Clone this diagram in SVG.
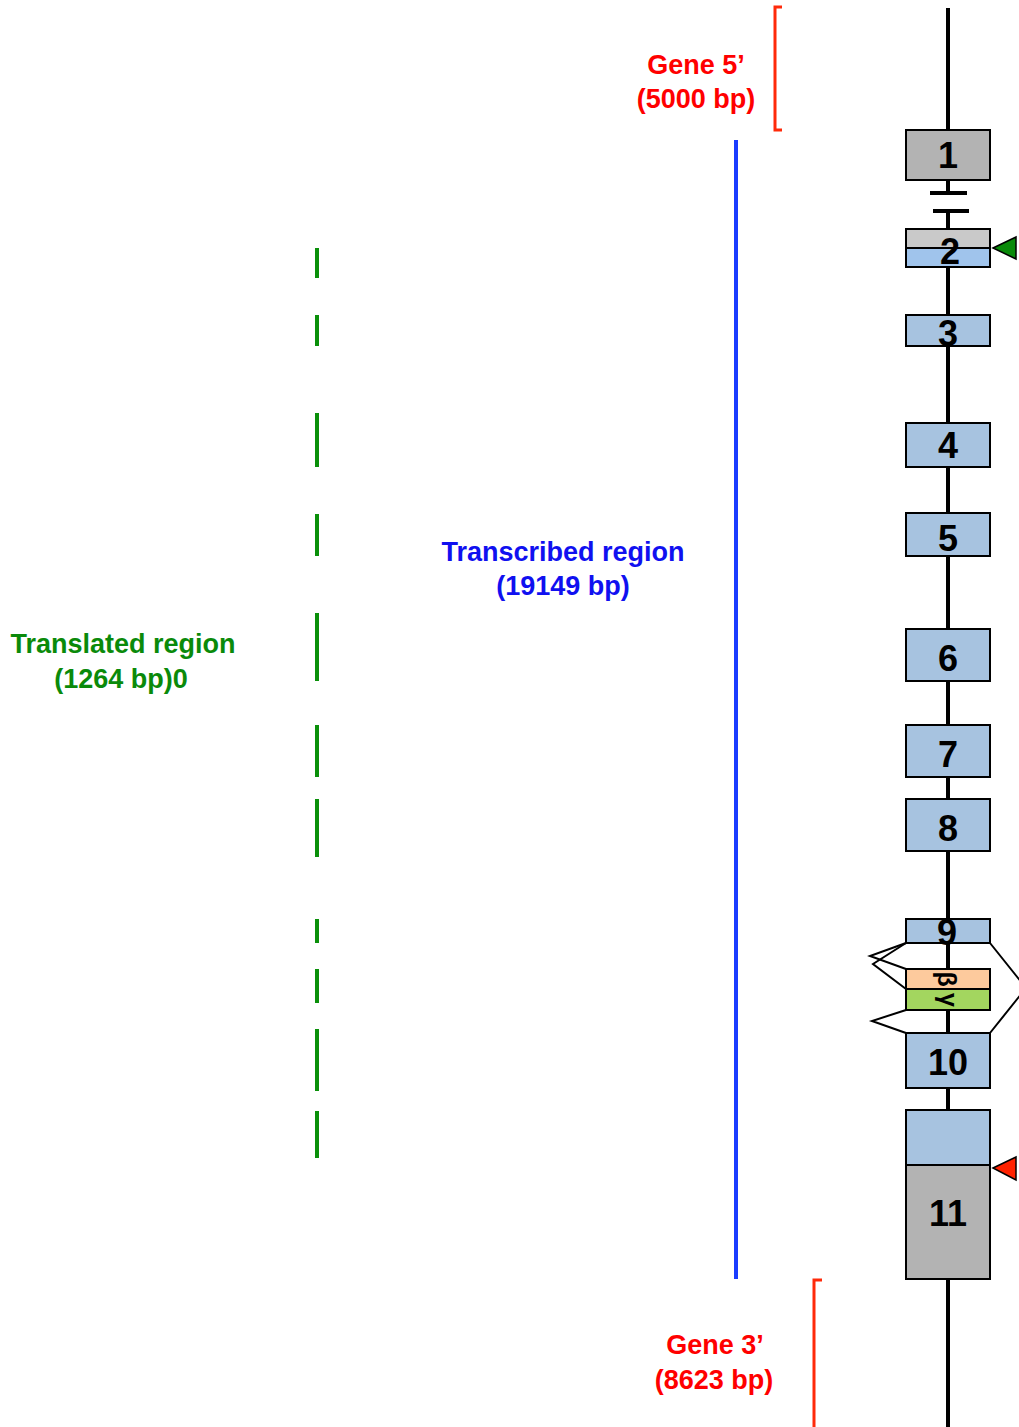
<svg xmlns="http://www.w3.org/2000/svg" width="1019" height="1427" viewBox="0 0 1019 1427">
<style>
.ex{stroke:#000;stroke-width:2}
.gray{fill:#b3b3b3}
.lgray{fill:#c9c9c9}
.blue{fill:#a7c3e0}
.blue2{fill:#a0c4ec}
.peach{fill:#fdca9d}
.grn{fill:#a3d65f}
.num{font-family:"Liberation Sans",Arial,sans-serif;font-weight:bold;font-size:36px;text-anchor:middle;fill:#000}
.greek{font-family:"Liberation Sans",Arial,sans-serif;font-weight:bold;font-size:25px;text-anchor:middle;fill:#000}
.lbl{font-family:"Liberation Sans",Arial,sans-serif;font-weight:bold;font-size:27px;text-anchor:middle}
.red{fill:#ff0000}
.bl{fill:#1010f0}
.gr{fill:#0a8a0a}
.dash{stroke:#0a900a;stroke-width:4}
.spl{fill:none;stroke:#000;stroke-width:2}
</style>
<g id="connectors">
<line x1="948" y1="8" x2="948" y2="193" stroke="#000" stroke-width="4"/>
<line x1="948" y1="211" x2="948" y2="1427" stroke="#000" stroke-width="4"/>
<line x1="930" y1="193" x2="967" y2="193" stroke="#000" stroke-width="4"/>
<line x1="933" y1="211" x2="969" y2="211" stroke="#000" stroke-width="4"/>
<polyline class="spl" points="906,943 870,956 906,969"/>
<polyline class="spl" points="906,943 873,964 906,989"/>
<polyline class="spl" points="906,1010 872,1021 906,1033"/>
<polyline class="spl" points="990,943 1026,988 990,1033"/>
</g>
<g id="exon1"><rect class="ex gray" x="906" y="130" width="84" height="50"/><text class="num" x="948" y="168">1</text></g>
<g id="exon2"><rect class="ex lgray" x="906" y="229" width="84" height="19"/><rect class="ex blue2" x="906" y="248" width="84" height="19"/><text class="num" x="950" y="264">2</text></g>
<g id="exon3"><rect class="ex blue" x="906" y="315" width="84" height="31"/><text class="num" x="948" y="346">3</text></g>
<g id="exon4"><rect class="ex blue" x="906" y="423" width="84" height="44"/><text class="num" x="948" y="458">4</text></g>
<g id="exon5"><rect class="ex blue" x="906" y="513" width="84" height="43"/><text class="num" x="948" y="551">5</text></g>
<g id="exon6"><rect class="ex blue" x="906" y="629" width="84" height="52"/><text class="num" x="948" y="671">6</text></g>
<g id="exon7"><rect class="ex blue" x="906" y="725" width="84" height="52"/><text class="num" x="948" y="767">7</text></g>
<g id="exon8"><rect class="ex blue" x="906" y="799" width="84" height="52"/><text class="num" x="948" y="841">8</text></g>
<g id="exon9"><rect class="ex blue" x="906" y="919" width="84" height="24"/><text class="num" x="947" y="945">9</text></g>
<g id="exonBeta"><rect class="ex peach" x="906" y="969" width="84" height="20"/><text class="greek" transform="translate(946 979) rotate(90)" y="8">β</text></g>
<g id="exonGamma"><rect class="ex grn" x="906" y="989" width="84" height="21"/><text class="greek" transform="translate(946 1000) rotate(90)" y="6">γ</text></g>
<g id="exon10"><rect class="ex blue" x="906" y="1033" width="84" height="55"/><text class="num" x="948" y="1075">10</text></g>
<g id="exon11"><rect class="ex blue" x="906" y="1110" width="84" height="55"/><rect class="ex gray" x="906" y="1165" width="84" height="114"/><text class="num" x="948" y="1226">11</text></g>
<g id="startMarker"><polygon points="993,248 1016,237 1016,259" fill="#0a8a0a" stroke="#000" stroke-width="1.5"/></g>
<g id="stopMarker"><polygon points="993,1168 1016,1157 1016,1180" fill="#ff2200" stroke="#000" stroke-width="1.5"/></g>
<g id="gene5">
<polyline points="782,7 775,7 775,130 782,130" fill="none" stroke="#ff2a0a" stroke-width="3"/>
<text class="lbl red" x="696" y="74">Gene 5’</text>
<text class="lbl red" x="696" y="108">(5000 bp)</text>
</g>
<g id="gene3">
<polyline points="822,1280 814,1280 814,1427" fill="none" stroke="#ff2a0a" stroke-width="3"/>
<text class="lbl red" x="715" y="1354">Gene 3’</text>
<text class="lbl red" x="714" y="1389">(8623 bp)</text>
</g>
<g id="transcribed">
<line x1="736" y1="140" x2="736" y2="1279" stroke="#1a3cff" stroke-width="4"/>
<text class="lbl bl" x="563" y="561">Transcribed region</text>
<text class="lbl bl" x="563" y="595">(19149 bp)</text>
</g>
<g id="translated">
<line class="dash" x1="317" y1="248" x2="317" y2="278"/>
<line class="dash" x1="317" y1="315" x2="317" y2="346"/>
<line class="dash" x1="317" y1="413" x2="317" y2="467"/>
<line class="dash" x1="317" y1="514" x2="317" y2="556"/>
<line class="dash" x1="317" y1="613" x2="317" y2="681"/>
<line class="dash" x1="317" y1="725" x2="317" y2="777"/>
<line class="dash" x1="317" y1="799" x2="317" y2="857"/>
<line class="dash" x1="317" y1="919" x2="317" y2="943"/>
<line class="dash" x1="317" y1="969" x2="317" y2="1003"/>
<line class="dash" x1="317" y1="1029" x2="317" y2="1091"/>
<line class="dash" x1="317" y1="1111" x2="317" y2="1158"/>
<text class="lbl gr" x="123" y="653">Translated region</text>
<text class="lbl gr" x="121" y="688">(1264 bp)0</text>
</g>
</svg>
